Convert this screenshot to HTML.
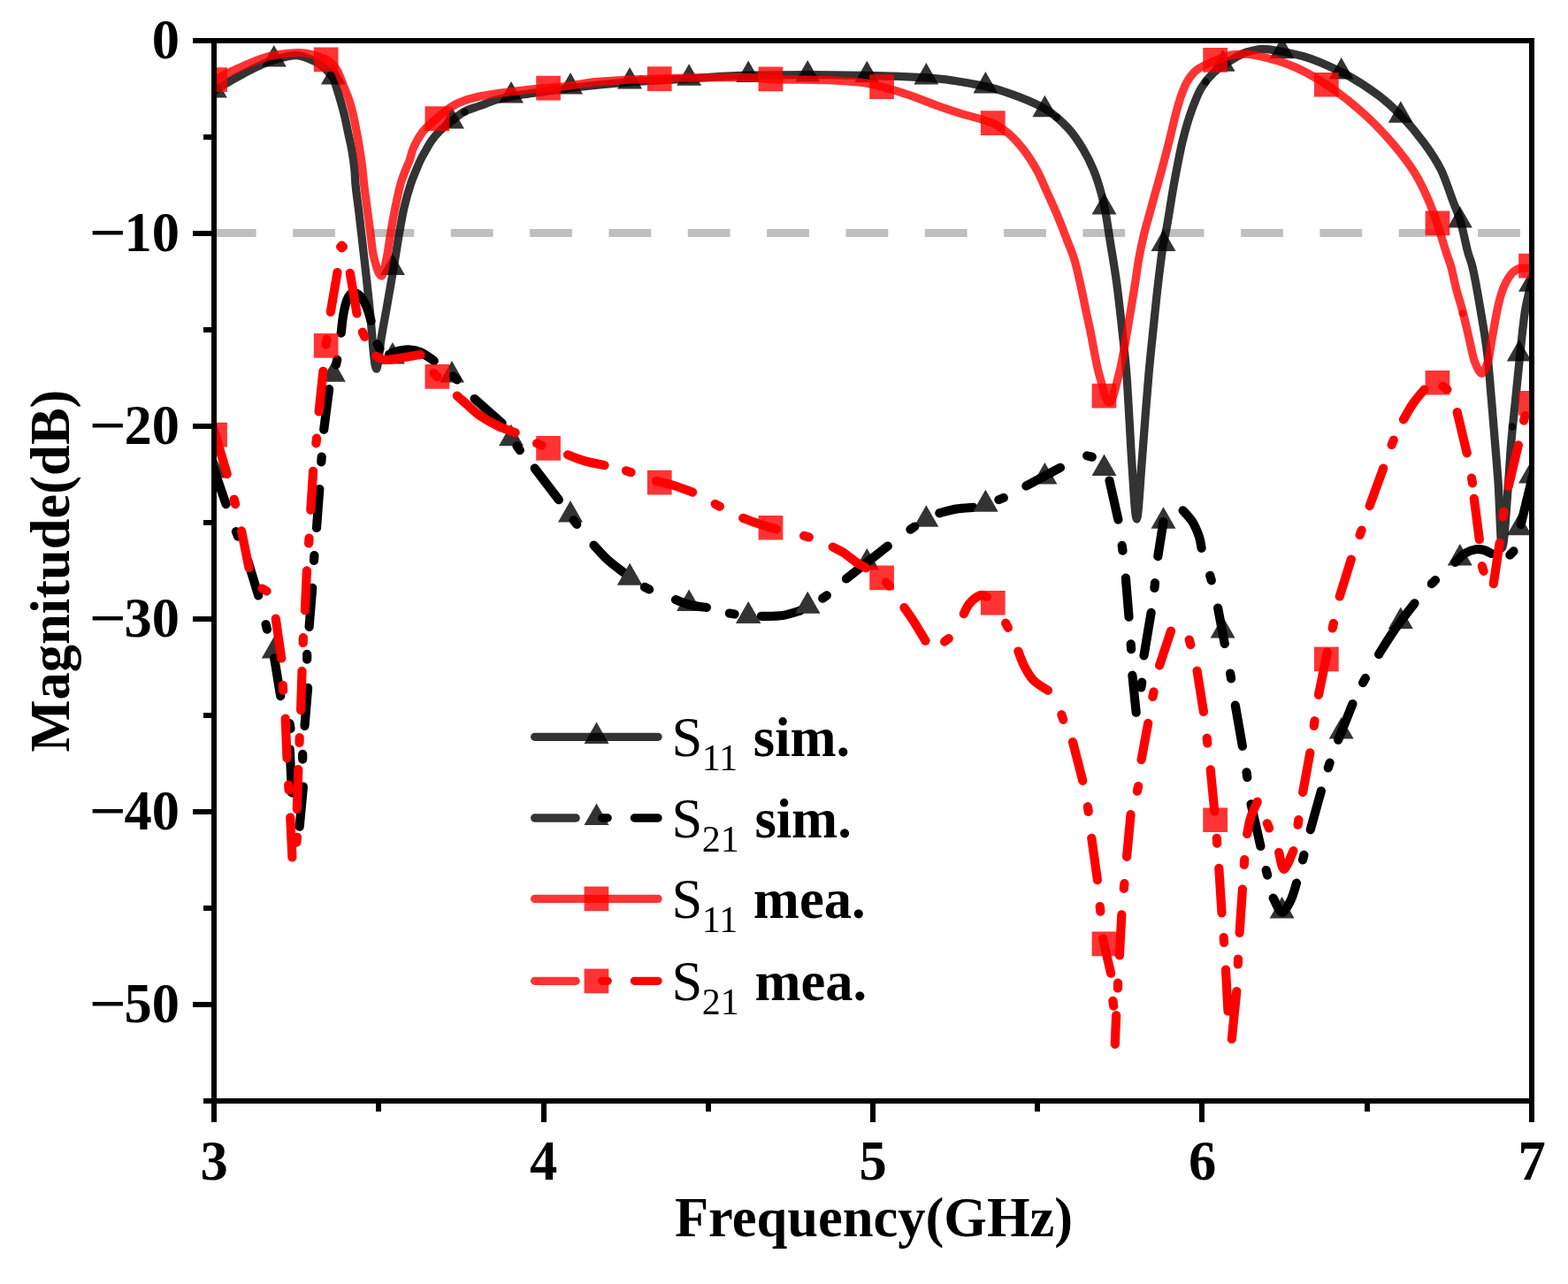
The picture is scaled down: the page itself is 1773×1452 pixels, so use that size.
<!DOCTYPE html>
<html lang="en"><head><meta charset="utf-8"><title>S-parameters</title>
<style>html,body{margin:0;padding:0;background:#fff;}body{width:1773px;height:1452px;overflow:hidden;}svg{display:block;}</style>
</head><body>
<svg width="1773" height="1452" viewBox="0 0 1773 1452">
<rect width="1773" height="1452" fill="#fff"/>
<defs><clipPath id="cp"><rect x="242" y="46" width="1490" height="1199"/></clipPath></defs>
<g clip-path="url(#cp)" fill="none" stroke-linecap="round" stroke-linejoin="round">
<path d="M241.8,263.5 H1740" stroke="#bfbfbf" stroke-width="9" stroke-dasharray="47.8 41.53" stroke-linecap="butt"/>
<path d="M242.60,102.60 C253.03,95.71 263.47,89.37 273.90,84.00 C285.87,77.84 297.83,71.16 309.80,67.80 C318.20,65.44 326.60,62.50 335.00,62.50 C342.33,62.50 349.67,66.31 357.00,70.00 C363.60,73.32 370.20,78.05 376.80,88.50 C377.77,90.03 378.73,93.55 379.70,96.40 C381.53,101.81 383.37,108.03 385.20,114.50 C386.80,120.15 388.40,125.90 390.00,132.70 C391.27,138.09 392.53,144.91 393.80,150.90 C395.10,157.05 396.40,161.70 397.70,169.10 C398.77,175.17 399.83,180.90 400.90,192.00 C401.23,195.47 401.57,203.53 401.90,207.30 C403.00,219.75 404.10,225.28 405.20,234.50 C406.27,243.44 407.33,252.55 408.40,261.80 C409.43,270.76 410.47,280.00 411.50,289.10 C412.37,296.73 413.23,304.13 414.10,312.00 C415.37,323.51 416.63,336.05 417.90,347.80 C420.43,371.30 422.97,417.00 425.50,417.00 C427.50,417.00 429.50,391.68 431.50,380.00 C433.43,368.71 435.37,358.74 437.30,347.80 C439.37,336.10 441.43,324.21 443.50,312.00 C444.77,304.52 446.03,296.76 447.30,289.10 C448.80,280.03 450.30,270.26 451.80,261.80 C453.53,252.03 455.27,241.91 457.00,234.50 C459.57,223.52 462.13,214.85 464.70,207.30 C466.70,201.42 468.70,196.84 470.70,192.00 C472.43,187.81 474.17,183.50 475.90,180.00 C477.77,176.24 479.63,173.25 481.50,170.00 C483.67,166.23 485.83,162.03 488.00,159.00 C491.20,154.53 494.40,150.95 497.60,147.80 C502.10,143.37 506.60,140.06 511.10,136.50 C515.63,132.91 520.17,128.59 524.70,126.30 C530.33,123.46 535.97,122.04 541.60,120.00 C549.13,117.28 556.67,114.01 564.20,112.10 C571.73,110.19 579.27,108.83 586.80,107.60 C598.10,105.75 609.40,104.57 620.70,103.00 C628.87,101.86 637.03,100.49 645.20,99.50 C667.57,96.80 689.93,94.44 712.30,92.80 C734.67,91.16 757.03,90.18 779.40,88.90 C801.77,87.62 824.13,85.34 846.50,85.10 C868.87,84.86 891.23,84.70 913.60,84.70 C935.97,84.70 958.33,85.10 980.70,85.50 C1003.07,85.90 1025.43,86.55 1047.80,87.80 C1070.17,89.05 1092.53,93.14 1114.90,97.80 C1123.27,99.54 1131.63,102.32 1140.00,105.20 C1153.83,109.96 1167.67,114.96 1181.50,123.00 C1190.27,128.09 1199.03,135.64 1207.80,145.00 C1213.43,151.01 1219.07,159.32 1224.70,168.70 C1228.67,175.31 1232.63,182.84 1236.60,192.50 C1239.40,199.32 1242.20,207.60 1245.00,217.90 C1246.87,224.76 1248.73,233.34 1250.60,243.30 C1252.00,250.77 1253.40,261.10 1254.80,270.00 C1257.47,286.94 1260.13,301.16 1262.80,320.80 C1264.77,335.29 1266.73,353.39 1268.70,371.60 C1270.40,387.34 1272.10,401.13 1273.80,422.50 C1274.90,436.33 1276.00,457.51 1277.10,476.00 C1278.00,491.13 1278.90,510.16 1279.80,523.00 C1281.63,549.16 1283.47,587.00 1285.30,587.00 C1287.23,587.00 1289.17,546.28 1291.10,523.00 C1292.30,508.55 1293.50,491.30 1294.70,476.00 C1296.13,457.72 1297.57,438.43 1299.00,422.50 C1300.70,403.61 1302.40,388.07 1304.10,371.60 C1305.90,354.16 1307.70,335.95 1309.50,320.80 C1311.47,304.25 1313.43,287.31 1315.40,276.00 C1316.50,269.68 1317.60,265.95 1318.70,260.20 C1321.53,245.38 1324.37,224.84 1327.20,209.40 C1330.60,190.88 1334.00,172.23 1337.40,158.60 C1340.77,145.10 1344.13,133.94 1347.50,124.70 C1351.17,114.64 1354.83,105.29 1358.50,99.30 C1363.03,91.90 1367.57,86.63 1372.10,82.40 C1378.30,76.61 1384.50,72.50 1390.70,68.80 C1397.47,64.76 1404.23,60.47 1411.00,58.60 C1416.67,57.03 1422.33,55.30 1428.00,55.30 C1435.47,55.30 1442.93,57.21 1450.40,58.50 C1458.23,59.86 1466.07,61.50 1473.90,63.70 C1488.13,67.70 1502.37,74.37 1516.60,81.50 C1530.60,88.51 1544.60,97.32 1558.60,107.80 C1567.07,114.14 1575.53,121.96 1584.00,130.60 C1592.83,139.61 1601.67,149.92 1610.50,162.00 C1616.90,170.75 1623.30,179.59 1629.70,192.50 C1633.97,201.11 1638.23,214.83 1642.50,226.30 C1645.63,234.73 1648.77,241.57 1651.90,252.00 C1654.60,260.99 1657.30,276.49 1660.00,286.00 C1661.50,291.29 1663.00,294.30 1664.50,300.00 C1667.70,312.16 1670.90,332.05 1674.10,350.80 C1676.70,366.04 1679.30,379.80 1681.90,401.60 C1683.43,414.46 1684.97,434.77 1686.50,452.50 C1687.90,468.69 1689.30,486.04 1690.70,503.30 C1691.83,517.27 1692.97,529.48 1694.10,546.00 C1695.50,566.41 1696.90,620.00 1698.30,620.00 C1700.87,620.00 1703.43,572.17 1706.00,540.00 C1706.83,529.56 1707.67,513.41 1708.50,503.30 C1710.20,482.67 1711.90,469.45 1713.60,452.50 C1715.30,435.55 1717.00,417.34 1718.70,401.60 C1720.67,383.39 1722.63,362.47 1724.60,350.80 C1726.73,338.14 1728.87,331.49 1731.00,322.00 C1732.67,314.59 1734.33,307.26 1736.00,300.00" stroke="#000" stroke-opacity="0.8" stroke-width="9.3"/>
<path d="M242.8,85.9 L256.8,110.4 L228.8,110.4Z M309.8,51.1 L323.8,75.6 L295.8,75.6Z M376.9,71.1 L390.9,95.6 L362.9,95.6Z M443.9,286.4 L457.9,310.9 L429.9,310.9Z M510.9,120.9 L525,145.4 L496.9,145.4Z M578,92.1 L592,116.6 L564,116.6Z M645,82.1 L659,106.6 L631,106.6Z M712.1,76.1 L726.1,100.6 L698.1,100.6Z M779.1,72.2 L793.1,96.8 L765.1,96.8Z M846.2,68.4 L860.2,92.9 L832.2,92.9Z M913.2,68 L927.2,92.5 L899.2,92.5Z M980.3,68.8 L994.3,93.3 L966.3,93.3Z M1047.3,71.1 L1061.3,95.6 L1033.3,95.6Z M1114.4,81.1 L1128.4,105.6 L1100.4,105.6Z M1181.4,107.8 L1195.4,132.3 L1167.4,132.3Z M1248.5,217.9 L1262.5,242.4 L1234.5,242.4Z M1315.5,259.4 L1329.5,283.9 L1301.5,283.9Z M1382.6,56.2 L1396.6,80.8 L1368.6,80.8Z M1449.6,41.8 L1463.6,66.3 L1435.6,66.3Z M1516.7,65 L1530.7,89.5 L1502.7,89.5Z M1583.8,114.2 L1597.8,138.7 L1569.8,138.7Z M1650.8,232.9 L1664.8,257.4 L1636.8,257.4Z M1717.8,384 L1731.8,408.5 L1703.8,408.5Z M1731,305.2 L1745,329.7 L1717,329.7Z" fill="#000" fill-opacity="0.8" stroke="none"/>
<circle cx="525.4" cy="126.7" r="4.3" fill="#000" fill-opacity="0.75"/>
<circle cx="1195" cy="132.8" r="4.3" fill="#000" fill-opacity="0.75"/>
<circle cx="1363.3" cy="92.5" r="4.3" fill="#000" fill-opacity="0.75"/>
<circle cx="1709.9" cy="482.6" r="4.3" fill="#000" fill-opacity="0.75"/>
<path d="M242.8,515.9 L256.8,540.4 L228.8,540.4Z M309.8,720.1 L323.8,744.6 L295.8,744.6Z M376.9,407.2 L390.9,431.7 L362.9,431.7Z M443.9,386.9 L457.9,411.4 L429.9,411.4Z M510.9,408.1 L525,432.6 L496.9,432.6Z M578,479.8 L592,504.2 L564,504.2Z M645,566.1 L659,590.6 L631,590.6Z M712.1,637.1 L726.1,661.6 L698.1,661.6Z M779.1,666.4 L793.1,690.9 L765.1,690.9Z M846.2,680.2 L860.2,704.8 L832.2,704.8Z M913.2,669.1 L927.2,693.6 L899.2,693.6Z M980.3,620.1 L994.3,644.6 L966.3,644.6Z M1047.3,571.2 L1061.3,595.8 L1033.3,595.8Z M1114.4,554 L1128.4,578.5 L1100.4,578.5Z M1181.4,523.1 L1195.4,547.6 L1167.4,547.6Z M1248.5,513.5 L1262.5,538 L1234.5,538Z M1315.5,573.2 L1329.5,597.8 L1301.5,597.8Z M1382.6,696.9 L1396.6,721.4 L1368.6,721.4Z M1449.6,1013.9 L1463.6,1038.4 L1435.6,1038.4Z M1516.7,811.1 L1530.7,835.6 L1502.7,835.6Z M1583.8,686.4 L1597.8,710.9 L1569.8,710.9Z M1650.8,615 L1664.8,639.5 L1636.8,639.5Z M1717.8,580.8 L1731.8,605.2 L1703.8,605.2Z M1731,522 L1745,546.5 L1717,546.5Z" fill="#000" fill-opacity="0.8" stroke="none"/>
<path d="M241.4,529.1 L255.6,570.1 M266.9,601.2 L269.1,606.6 M280.2,634.1 L292.2,673.4 M300.6,706.1 L302,711.7 M310.2,744.4 L317.2,787.1 M327.5,818.1 L328.5,823.9 M327.7,847.3 L330,896.3 M338.7,934.7 L342.9,889.7 M342.2,858.6 L342.2,852.8 M344.5,820.9 L348.1,777.9 M347.2,745.7 L347.2,739.9 M349.6,708.8 L353.2,664.9 M355,633.9 L355.4,628.1 M358,597 L361.3,553.1 M363.3,522.4 L363.7,516.6 M366.2,485.8 L372.1,440.1 M380,412.4 L381.2,406.8 M385.7,376.6 C386.1,373.2 387.1,362.5 388.2,356.2 C389.3,349.9 390.8,343.1 392.5,339 C394.2,334.9 396,332.2 398.4,331.5 C400.8,330.8 404.2,331.9 406.9,334.5 C409.6,337.1 412.4,342.2 414.5,347 C416.6,351.8 418.8,360.3 419.6,363 M426.6,389.2 L429.4,394.4 M440,401 C441.7,400.3 446.3,397.9 450,397 C453.7,396.1 457.8,395.1 462,395.3 C466.2,395.5 470.2,395.9 475,398 C479.8,400.1 488.1,406.2 490.7,407.9 M512.3,425.4 L516.5,429.4 M536.6,451 L567.6,478.5 M584.4,504.3 L587.8,509.1 M604.7,529.6 L631.8,565.2 M648.6,588.3 L652.2,592.9 M671.5,616.6 C674,619.3 681.3,627.8 687,633 C692.7,638.2 702.6,645.3 705.7,647.7 M728.9,663.9 L734.1,666.5 M764,678.2 C766.7,679.1 774.2,682.5 780,684 C785.8,685.5 795.7,686.5 798.9,687 M824.8,693.5 L830.6,694.5 M860.8,696.8 C864.8,696.7 877.7,697.1 885,696 C892.3,694.9 901.5,691.5 904.9,690.5 M930.2,676.7 L934.8,673.3 M956.9,654.5 L1003.8,617.6 M1029.4,598.7 L1034.2,595.5 M1062.3,580.3 C1065.4,579.5 1074.5,576.7 1080.9,575.6 C1087.3,574.5 1097.2,574.1 1100.4,573.8 M1129.4,565.1 L1134.8,562.9 M1160.4,549.5 L1199,528.8 M1229.2,515.4 L1234.8,516.8 M1254.5,543.5 L1264.4,587.6 M1268.7,616.9 L1269.5,622.7 M1272.9,653.7 L1276.5,697.6 M1278.7,728.4 L1279.1,734.2 M1280.4,763.7 L1284.7,805.7 M1290.4,777.4 L1291.2,771.6 M1293.5,741.4 L1301.6,692.8 M1305.4,665 L1306,659.2 M1309.3,629.1 L1315.5,590.1 M1337.6,577.3 C1339.4,579.4 1345.3,585.1 1348.4,590.1 C1351.5,595.1 1354.3,602.2 1356,607.1 C1357.7,612 1358.1,617.7 1358.6,619.8 M1368.2,650.8 L1369.8,656.4 M1377.1,687.5 L1384.8,728 M1391.1,761.5 L1392.1,767.3 M1396.8,797.6 L1404.9,843.8 M1409.5,873.3 L1410.3,879.1 M1414.6,909.4 L1425.4,957 M1431.7,984 L1433.1,989.6 M1439.7,1015.6 C1441.3,1018.2 1446.1,1031.2 1449.4,1031.6 C1452.7,1032 1456.7,1023.6 1459.5,1018.1 C1462.3,1012.6 1464.9,1002 1466,998.7 M1473,972.5 L1474.4,966.9 M1481.8,938.2 L1493.9,894.5 M1501.8,868.3 L1503.6,862.7 M1513.2,836.7 L1529.4,796.1 M1541.1,772.1 L1543.9,766.9 M1559.1,739.9 C1562.1,735.2 1570.3,721.6 1577,712 C1583.7,702.4 1595.7,687.2 1599.5,682.3 M1618.8,660.2 L1623,656 M1645.7,635.9 C1647.4,634.3 1652.2,628.4 1656,626 C1659.8,623.6 1665,622 1668.7,621.3 C1672.4,620.6 1675.1,621.2 1678,622 C1680.9,622.8 1685,625.3 1686.4,626 M1707.3,627.6 L1711.5,623.4 M1719.7,593.2 L1734.8,531" stroke="#000" stroke-width="10.2"/>
<path d="M712.1,637.1 L726.1,661.6 L698.1,661.6Z M846.2,680.2 L860.2,704.8 L832.2,704.8Z M913.2,669.1 L927.2,693.6 L899.2,693.6Z M1114.4,554 L1128.4,578.5 L1100.4,578.5Z" fill="#333" stroke="none"/>
<path d="M243.40,90.00 C253.57,84.48 263.73,79.43 273.90,75.20 C285.20,70.50 296.50,64.72 307.80,62.90 C317.97,61.26 328.13,59.70 338.30,59.70 C348.43,59.70 358.57,62.95 368.70,67.30 C372.63,68.99 376.57,72.81 380.50,78.20 C383.07,81.72 385.63,90.06 388.20,96.40 C390.53,102.17 392.87,107.24 395.20,114.50 C396.80,119.48 398.40,125.72 400.00,132.70 C401.20,137.94 402.40,144.47 403.60,150.90 C404.67,156.62 405.73,162.34 406.80,169.10 C407.87,175.86 408.93,182.83 410.00,192.00 C410.50,196.30 411.00,202.81 411.50,207.30 C412.67,217.78 413.83,225.54 415.00,234.50 C416.20,243.71 417.40,252.82 418.60,261.80 C419.83,271.03 421.07,284.13 422.30,289.10 C425.33,301.33 428.37,312.00 431.40,312.00 C433.50,312.00 435.60,298.98 437.70,289.10 C439.13,282.36 440.57,270.23 442.00,261.80 C443.67,252.00 445.33,242.64 447.00,234.50 C449.07,224.41 451.13,214.31 453.20,207.30 C455.03,201.09 456.87,196.77 458.70,192.00 C460.33,187.75 461.97,184.83 463.60,180.00 C464.53,177.24 465.47,172.55 466.40,170.00 C468.13,165.27 469.87,162.09 471.60,159.00 C474.07,154.61 476.53,150.73 479.00,147.80 C484.07,141.78 489.13,138.04 494.20,133.60 C498.13,130.15 502.07,126.53 506.00,123.80 C510.33,120.80 514.67,117.91 519.00,116.10 C526.53,112.95 534.07,110.71 541.60,109.10 C549.13,107.49 556.67,106.46 564.20,105.40 C571.73,104.34 579.27,103.44 586.80,102.60 C598.10,101.34 609.40,100.25 620.70,99.20 C627.13,98.60 633.57,98.18 640.00,97.50 C651.83,96.25 663.67,93.45 675.50,92.50 C698.97,90.61 722.43,89.36 745.90,88.80 C777.27,88.05 808.63,87.40 840.00,87.40 C850.50,87.40 861.00,89.17 871.50,89.50 C894.87,90.23 918.23,90.05 941.60,90.80 C952.90,91.16 964.20,92.06 975.50,93.40 C982.67,94.25 989.83,96.39 997.00,98.20 C1006.77,100.67 1016.53,103.67 1026.30,106.90 C1037.60,110.63 1048.90,115.62 1060.20,119.60 C1068.67,122.59 1077.13,125.49 1085.60,128.10 C1093.53,130.54 1101.47,132.42 1109.40,134.90 C1113.93,136.32 1118.47,137.50 1123.00,139.50 C1128.67,142.00 1134.33,146.00 1140.00,150.60 C1145.63,155.17 1151.27,161.59 1156.90,168.70 C1162.10,175.26 1167.30,183.10 1172.50,192.50 C1176.40,199.55 1180.30,209.29 1184.20,217.90 C1187.97,226.22 1191.73,234.31 1195.50,243.30 C1199.00,251.66 1202.50,260.88 1206.00,270.00 C1209.00,277.81 1212.00,284.17 1215.00,294.00 C1217.17,301.10 1219.33,311.24 1221.50,320.80 C1223.80,330.95 1226.10,342.84 1228.40,353.60 C1229.70,359.68 1231.00,365.43 1232.30,371.60 C1235.70,387.75 1239.10,409.89 1242.50,422.00 C1246.50,436.24 1250.50,455.00 1254.50,455.00 C1258.17,455.00 1261.83,436.05 1265.50,422.00 C1269.70,405.91 1273.90,378.35 1278.10,354.00 C1279.90,343.56 1281.70,332.37 1283.50,320.80 C1284.83,312.23 1286.17,301.57 1287.50,294.00 C1289.50,282.65 1291.50,273.34 1293.50,265.00 C1295.50,256.66 1297.50,250.32 1299.50,243.00 C1301.60,235.32 1303.70,227.59 1305.80,220.00 C1308.37,210.73 1310.93,202.01 1313.50,192.50 C1316.43,181.64 1319.37,170.23 1322.30,158.60 C1325.07,147.63 1327.83,134.74 1330.60,124.70 C1332.30,118.53 1334.00,112.40 1335.70,107.80 C1338.23,100.95 1340.77,94.75 1343.30,90.80 C1346.67,85.55 1350.03,81.47 1353.40,79.00 C1360.20,74.01 1367.00,71.53 1373.80,68.80 C1380.57,66.09 1387.33,62.65 1394.10,62.00 C1398.63,61.57 1403.17,61.20 1407.70,61.20 C1418.47,61.20 1429.23,64.77 1440.00,67.50 C1448.47,69.65 1456.93,72.79 1465.40,76.40 C1476.97,81.33 1488.53,88.40 1500.10,95.90 C1513.93,104.87 1527.77,115.79 1541.60,128.10 C1552.57,137.86 1563.53,149.18 1574.50,162.00 C1582.97,171.90 1591.43,182.16 1599.90,195.90 C1605.00,204.18 1610.10,214.54 1615.20,226.30 C1618.57,234.07 1621.93,243.58 1625.30,253.40 C1628.70,263.32 1632.10,275.69 1635.50,286.00 C1637.10,290.85 1638.70,294.56 1640.30,300.00 C1642.53,307.60 1644.77,319.51 1647.00,328.00 C1649.37,336.99 1651.73,343.64 1654.10,352.70 C1656.40,361.50 1658.70,372.34 1661.00,382.00 C1663.17,391.10 1665.33,403.78 1667.50,409.00 C1670.17,415.43 1672.83,422.30 1675.50,422.30 C1677.83,422.30 1680.17,415.82 1682.50,409.00 C1684.20,404.03 1685.90,389.32 1687.60,380.00 C1689.90,367.39 1692.20,352.84 1694.50,343.60 C1696.33,336.23 1698.17,330.06 1700.00,325.50 C1701.83,320.94 1703.67,317.25 1705.50,314.50 C1707.60,311.35 1709.70,308.43 1711.80,307.00 C1714.53,305.14 1717.27,303.20 1720.00,303.20 C1723.67,303.20 1727.33,303.41 1731.00,303.60 C1732.67,303.69 1734.33,303.84 1736.00,304.00" stroke="#f00" stroke-opacity="0.8" stroke-width="9.3"/>
<path d="M229.2,76.2h27.7v27.7h-27.7Z M354.8,53.6h27.7v27.7h-27.7Z M480.5,120.2h27.7v27.7h-27.7Z M606.2,85.7h27.7v27.7h-27.7Z M731.9,75.2h27.7v27.7h-27.7Z M857.6,75.6h27.7v27.7h-27.7Z M983.2,84.2h27.7v27.7h-27.7Z M1108.9,125.2h27.7v27.7h-27.7Z M1234.6,433.8h27.7v27.7h-27.7Z M1360.3,54.1h27.7v27.7h-27.7Z M1486,81.9h27.7v27.7h-27.7Z M1611.6,238.6h27.7v27.7h-27.7Z M1717.2,286.8h27.7v27.7h-27.7Z" fill="#f00" fill-opacity="0.8" stroke="none"/>
<circle cx="724.7" cy="89.6" r="4.3" fill="#f00" fill-opacity="0.75"/>
<circle cx="1653.8" cy="354.2" r="4.3" fill="#f00" fill-opacity="0.75"/>
<path d="M229.2,477.8h27.7v27.7h-27.7Z M354.8,377.1h27.7v27.7h-27.7Z M480.5,412.1h27.7v27.7h-27.7Z M606.2,493.1h27.7v27.7h-27.7Z M731.9,531.8h27.7v27.7h-27.7Z M857.6,582.9h27.7v27.7h-27.7Z M983.2,639.6h27.7v27.7h-27.7Z M1108.9,667.9h27.7v27.7h-27.7Z M1234.6,1053.6h27.7v27.7h-27.7Z M1360.3,913.4h27.7v27.7h-27.7Z M1486,731.5h27.7v27.7h-27.7Z M1611.6,418.9h27.7v27.7h-27.7Z M1717.2,442h27.7v27.7h-27.7Z" fill="#f00" fill-opacity="0.8" stroke="none"/>
<path d="M240.3,481 L256.7,536 M264.7,564.6 L266.1,570.2 M273.1,600.4 L281.5,642 M296.5,665.5 L301.5,668.5 M311.8,699.6 L318.2,744.4 M319.8,774.9 L320.2,780.7 M322.7,812.6 L324.5,857.3 M326.2,887.5 L326.6,893.3 M328.3,924.4 L330.4,969.5 M335.4,952.6 L336,946.8 M335.8,914.9 L337.3,870.2 M338.5,840 L338.7,834.2 M340.1,803.1 L341.5,758.9 M342.7,727 L342.9,721.2 M344.9,690.2 L346.9,645.4 M349.1,614.4 L349.5,608.6 M351.3,576.7 L354.1,532.8 M357.4,501.4 L358,495.6 M360.6,465.5 L365.4,419.8 M368.7,389.6 L369.5,383.8 M373.8,352.8 L381.5,308 M385.1,279 h2.8 M386.5,277.5 v3 M395.8,308.8 L403.5,354.5 M409.9,375.6 L412.3,380.8 M425.5,402.8 C427.1,403.5 429.9,406.7 434.8,407 C439.7,407.3 448.2,405.5 455,404.5 C461.8,403.5 472.1,401.7 475.5,401.1 M490.5,421.8 L494.3,426.2 M516.8,447.6 C518.7,449.2 523.8,453.8 528,457.5 C532.2,461.2 536.3,465.5 542,469.5 C547.7,473.5 555.6,478 562.4,481.3 C569.2,484.6 579.2,487.9 582.6,489.2 M607.1,501.4 L612.5,503.6 M642,514.3 C645.3,515.5 655.1,519.5 662,521.5 C668.9,523.5 679.9,525.4 683.5,526.2 M707.9,532.4 L713.5,534.2 M742.1,544 C745.4,544.8 755.2,546.9 762,549 C768.8,551.1 779.5,555.4 783.1,556.6 M808.7,569.9 L813.9,572.7 M840.2,585.9 C843.2,587 851.7,590.4 858,592.5 C864.3,594.6 874.5,597.4 877.8,598.4 M909.1,605.9 L914.7,607.5 M941.6,618.6 C943.7,619.7 949.6,622.2 953.9,625 C958.2,627.8 963.2,632.3 967.4,635.2 C971.6,638.1 977.1,641.1 979,642.3 M1001.9,658.5 L1005.9,662.7 M1022.4,687.1 C1024.4,689.9 1030,697.7 1034,704 C1038,710.3 1044.4,721.3 1046.5,724.7 M1068.1,725.6 L1072.7,722 M1089.8,694.1 C1090.9,692.2 1093.2,686.1 1096.2,682.6 C1099.2,679.1 1104.7,674.6 1108,673.3 C1111.3,672 1114.5,674.5 1115.8,674.7 M1137.2,704.6 L1139.8,709.8 M1151.4,736.5 C1152.6,739.5 1155.7,748.7 1158.6,754.2 C1161.5,759.7 1164.4,765.1 1168.8,769.5 C1173.2,773.9 1182.2,778.9 1184.9,780.7 M1200.4,808.2 L1202.2,813.8 M1213,839.1 L1224.2,882.8 M1229.9,912.2 L1230.7,918 M1234.3,947.9 L1240.9,995.1 M1243.7,1025 L1244.3,1030.8 M1247,1061.4 L1256.1,1100.7 M1258.4,1131.8 L1259.2,1137.6 M1262.1,1148.2 L1260.8,1180.8 M1263.9,1117.5 L1264.1,1111.7 M1265.9,1080.4 L1268.3,1034.3 M1270.8,1004.9 L1271.4,999.1 M1274.1,968.8 L1278.5,921.2 M1285.9,894.7 L1287.1,889.1 M1290.6,859.1 L1298.2,817.9 M1303.4,788 L1304.6,782.4 M1311.1,752.5 L1324,713.6 M1344.7,723.5 L1346.3,729.1 M1353.6,758.6 L1360.9,804.9 M1364.7,834.7 L1365.3,840.5 M1368.8,870.4 L1373.3,917.5 M1375.8,947.8 L1376.2,953.6 M1378.3,981.8 L1381.5,1032.3 M1383.7,1060.2 L1384.1,1066 M1386,1096.6 L1388.5,1143.5 M1392.8,1175 L1398.3,1121 M1399.8,1090.4 L1400,1084.6 M1401.6,1055 L1404.9,1005.5 M1406.8,977.8 L1407.2,972 M1410.2,943 C1410.8,940 1412.1,931.1 1414,925 C1415.9,918.9 1420.4,909.8 1421.7,906.7 M1432.8,931.1 L1435,936.5 M1446.2,964 C1447.1,967.1 1449.2,983.3 1451.9,983 C1454.6,982.7 1460.7,965.7 1462.4,962.2 M1467.6,932.8 L1468.4,927 M1473.2,895.9 L1481.3,851.3 M1485.7,821 L1486.5,815.2 M1491,785.8 L1500.8,737.5 M1506.7,710.5 L1507.9,704.9 M1514.8,674.5 L1527.8,632.5 M1537.6,605 L1539.6,599.6 M1548.7,572.1 L1564.2,529.6 M1573.6,503.1 L1575.8,497.7 M1587,474.4 C1588.8,471.4 1594.1,461.6 1598,456 C1601.9,450.4 1608.4,443.1 1610.5,440.6 M1631.6,436.9 L1636.4,440.3 M1647.7,466.2 L1658.7,512.4 M1664,540.6 L1665,546.4 M1666.8,563.9 L1672.8,610.1 M1675.8,640.2 L1677.6,645.8 M1688.8,660.1 L1695.7,613.8 M1699.6,584.4 L1700.4,578.6 M1705.7,550 L1716.8,503.4 M1723.1,475.6 L1724.5,470" stroke="#f00" stroke-width="10.2"/>
</g>
<g fill="#000" shape-rendering="crispEdges">
<rect x="239" y="43" width="6" height="1226"/>
<rect x="1729" y="43" width="6" height="1226"/>
<rect x="218" y="43" width="1517" height="6"/>
<rect x="230" y="1242" width="1505" height="6"/>
<rect x="218" y="261" width="22" height="6"/>
<rect x="218" y="479" width="22" height="6"/>
<rect x="218" y="697" width="22" height="6"/>
<rect x="218" y="915" width="22" height="6"/>
<rect x="218" y="1133" width="22" height="6"/>
<rect x="230" y="152" width="10" height="6"/>
<rect x="230" y="370" width="10" height="6"/>
<rect x="230" y="588" width="10" height="6"/>
<rect x="230" y="806" width="10" height="6"/>
<rect x="230" y="1024" width="10" height="6"/>
<rect x="612" y="1245" width="6" height="24"/>
<rect x="984" y="1245" width="6" height="24"/>
<rect x="1356" y="1245" width="6" height="24"/>
<rect x="425" y="1245" width="6" height="12"/>
<rect x="798" y="1245" width="6" height="12"/>
<rect x="1170" y="1245" width="6" height="12"/>
<rect x="1543" y="1245" width="6" height="12"/>
</g>
<g fill="none" stroke-linecap="round">
<path d="M604.65,833.3 H744.0500000000001" stroke="#000" stroke-opacity="0.8" stroke-width="9.3"/>
<path d="M674.5,816.6 L688.5,841.1 L660.5,841.1Z" fill="#000" fill-opacity="0.8"/>
<path d="M604.65,925.0 H651.15" stroke="#000" stroke-opacity="0.8" stroke-width="9.3"/>
<path d="M674.5,908.4 L688.5,932.9 L660.5,932.9Z" fill="#000" fill-opacity="0.8"/>
<path d="M680.65,925.0 H687.15 M717.35,925.0 H744.0500000000001" stroke="#000" stroke-width="9.3"/>
<path d="M604.65,1016.4 H744.0500000000001" stroke="#f00" stroke-opacity="0.8" stroke-width="9.3"/>
<path d="M660.6,1002.5h27.7v27.7h-27.7Z" fill="#f00" fill-opacity="0.8"/>
<path d="M604.65,1109.3 H651.15" stroke="#f00" stroke-opacity="0.8" stroke-width="9.3"/>
<path d="M660.6,1095.5h27.7v27.7h-27.7Z" fill="#f00" fill-opacity="0.8"/>
<path d="M680.65,1109.3 H687.15 M717.35,1109.3 H744.0500000000001" stroke="#f00" stroke-width="9.3"/>
</g>
<g font-family="'Liberation Serif', 'Times New Roman', serif" font-weight="bold" fill="#000" font-size="62.5">
<text x="203" y="66.0" text-anchor="end">0</text>
<text x="203" y="284.0" text-anchor="end">10</text>
<text transform="translate(122,284.0) scale(1.18,1)" text-anchor="middle">−</text>
<text x="203" y="502.0" text-anchor="end">20</text>
<text transform="translate(122,502.0) scale(1.18,1)" text-anchor="middle">−</text>
<text x="203" y="720.0" text-anchor="end">30</text>
<text transform="translate(122,720.0) scale(1.18,1)" text-anchor="middle">−</text>
<text x="203" y="938.0" text-anchor="end">40</text>
<text transform="translate(122,938.0) scale(1.18,1)" text-anchor="middle">−</text>
<text x="203" y="1156.0" text-anchor="end">50</text>
<text transform="translate(122,1156.0) scale(1.18,1)" text-anchor="middle">−</text>
<text x="242.0" y="1333.5" text-anchor="middle">3</text>
<text x="614.5" y="1333.5" text-anchor="middle">4</text>
<text x="987.0" y="1333.5" text-anchor="middle">5</text>
<text x="1359.5" y="1333.5" text-anchor="middle">6</text>
<text x="1732.0" y="1333.5" text-anchor="middle">7</text>
<text x="988" y="1398" text-anchor="middle">Frequency(GHz)</text>
<text transform="translate(78,645.5) rotate(-90)" text-anchor="middle">Magnitude(dB)</text>
<text x="759.5" y="855.3"><tspan font-weight="normal">S</tspan><tspan font-weight="normal" font-size="42" dy="16" dx="-0.5">11</tspan><tspan dy="-16" dx="2"> sim.</tspan></text>
<text x="759.5" y="947.0"><tspan font-weight="normal">S</tspan><tspan font-weight="normal" font-size="42" dy="16" dx="-0.5">21</tspan><tspan dy="-16" dx="2"> sim.</tspan></text>
<text x="759.5" y="1038.4"><tspan font-weight="normal">S</tspan><tspan font-weight="normal" font-size="42" dy="16" dx="-0.5">11</tspan><tspan dy="-16" dx="2"> mea.</tspan></text>
<text x="759.5" y="1131.3"><tspan font-weight="normal">S</tspan><tspan font-weight="normal" font-size="42" dy="16" dx="-0.5">21</tspan><tspan dy="-16" dx="2"> mea.</tspan></text>
</g>
</svg>
</body></html>
